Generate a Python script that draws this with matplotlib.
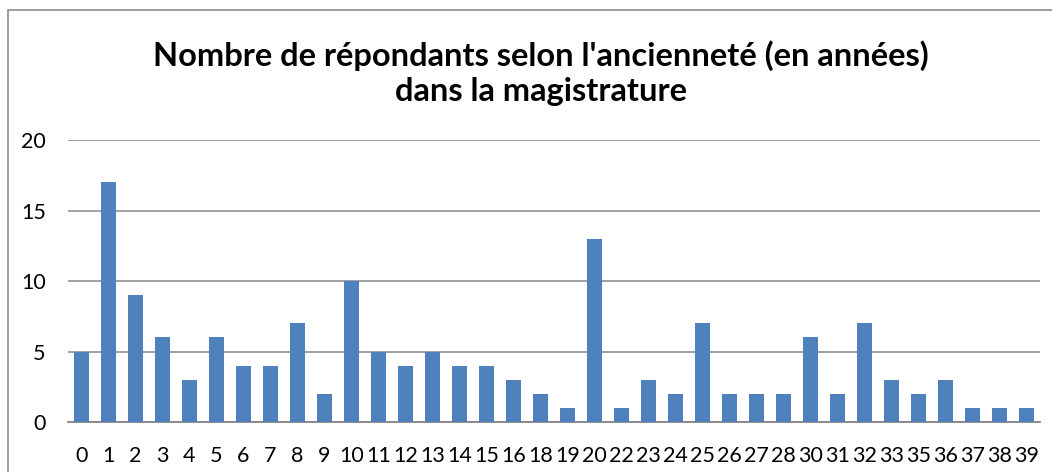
import matplotlib.pyplot as plt
from matplotlib.patches import Rectangle

plt.rcParams['font.family'] = ['Lato', 'DejaVu Sans']

# ancienneté (années) et nombre de répondants
annees = ['0', '1', '2', '3', '4', '5', '6', '7', '8', '9', '10', '11', '12',
          '13', '14', '15', '16', '18', '19', '20', '22', '23', '24', '25',
          '26', '27', '28', '30', '31', '32', '33', '35', '36', '37', '38', '39']
repondants = [5, 17, 9, 6, 3, 6, 4, 4, 7, 2, 10, 5, 4, 5, 4, 4, 3, 2, 1, 13,
              1, 3, 2, 7, 2, 2, 2, 6, 2, 7, 3, 2, 3, 1, 1, 1]

fig = plt.figure(figsize=(10.52, 4.72), dpi=100)
ax = fig.add_axes([0.0646, 0.106, 0.924, 0.597])

x = range(len(annees))
ax.bar(x, repondants, width=0.56, color='#4f81bd', zorder=3)

ax.set_xlim(-0.5, len(annees) - 0.5)
ax.set_ylim(0, 20)
ax.set_yticks([0, 5, 10, 15, 20])
ax.set_xticks(list(x))
ax.set_xticklabels(annees)
ax.tick_params(axis='both', length=0, labelsize=15.5, colors='black')
ax.tick_params(axis='y', pad=16)
ax.tick_params(axis='x', pad=17)
ax.grid(axis='y', color='#868686', linewidth=1.1, zorder=0)
for side in ['top', 'right', 'left']:
    ax.spines[side].set_visible(False)
ax.spines['bottom'].set_color('#868686')
ax.spines['bottom'].set_linewidth(1.3)

fig.text(0.514, 0.846, "Nombre de répondants selon l'ancienneté (en années)\ndans la magistrature",
         ha='center', va='center', fontsize=23.5, fontweight='bold', linespacing=1.25)

# cadre du graphique
fig.patches.append(Rectangle((0.0076, -0.1), 1.1, 1.079, transform=fig.transFigure,
                             fill=False, edgecolor='#8c8c8c', linewidth=1.2))

fig.savefig('out.png', dpi=100)
